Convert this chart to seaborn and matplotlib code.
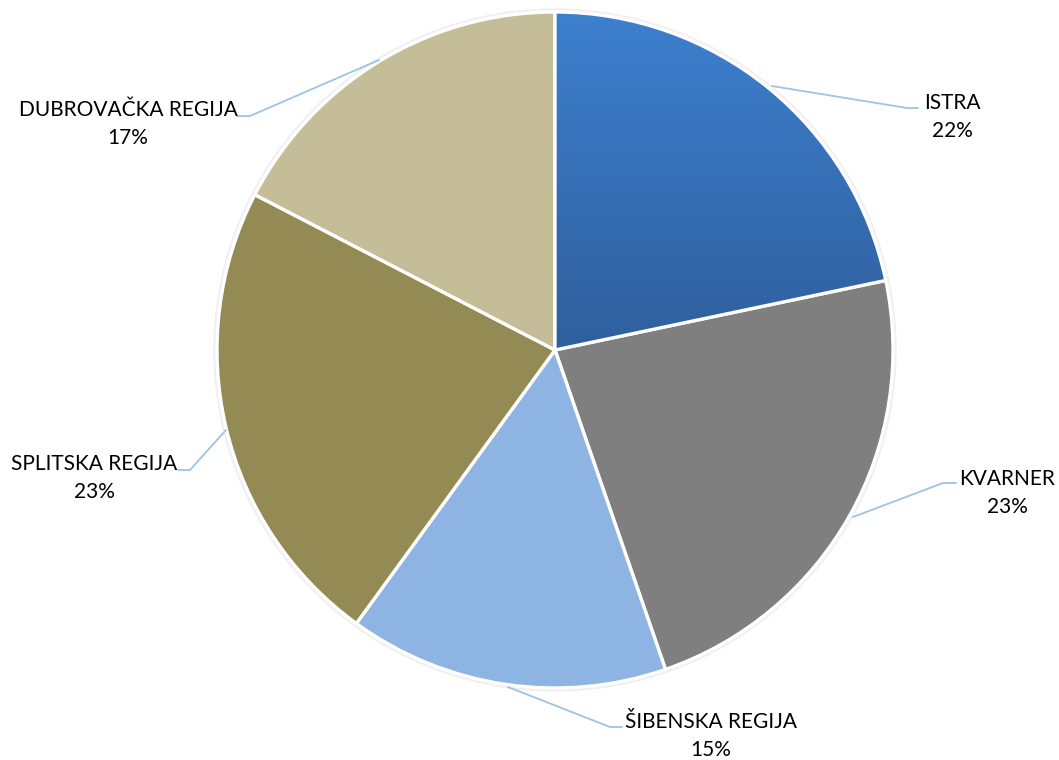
import numpy as np
import seaborn as sns
import matplotlib.pyplot as plt
from matplotlib.patches import Circle

# Share of regions (%)
regions = ['ISTRA', 'KVARNER', 'ŠIBENSKA REGIJA', 'SPLITSKA REGIJA', 'DUBROVAČKA REGIJA']
shares = [21.7, 23.0, 15.3, 22.6, 17.4]
colors = ['#3673bd', '#7f7f7f', '#8eb4e3', '#948a54', '#c4bd97']

sns.set_theme(style='white')
plt.rcParams['font.family'] = ['Lato', 'DejaVu Sans']

W, H = 1059, 760
fig = plt.figure(figsize=(W / 100, H / 100), dpi=100)
ax = fig.add_axes([0, 0, 1, 1])

cx, cy, r = 555, H - 350, 338

# faint shadow ring behind the pie
ax.add_patch(Circle((cx, cy), r + 3, color='#f0f0f0', zorder=0))

wedges, _ = ax.pie(shares, colors=colors, startangle=90, counterclock=False,
                   center=(cx, cy), radius=r, frame=True,
                   wedgeprops=dict(edgecolor='white', linewidth=2.4))
ax.set_xlim(0, W)
ax.set_ylim(0, H)
ax.set_aspect('equal')
ax.axis('off')

# vertical gradient on the first wedge (lighter at top)
grad = np.linspace(0, 1, 256).reshape(-1, 1)
cmap = sns.blend_palette(['#3d80cf', '#2f5e9b'], as_cmap=True)
img = ax.imshow(grad, cmap=cmap, extent=(cx, cx + r, cy - 10, cy + r),
                origin='upper', aspect='auto', zorder=wedges[0].get_zorder())
img.set_clip_path(wedges[0])
wedges[0].set_zorder(img.get_zorder() + 0.1)
wedges[0].set_facecolor('none')

# label positions and leader lines, in pixel coordinates (y from top)
label_pos = [(952, 117), (1007, 493), (711, 736), (94, 478), (128, 124)]
leaders = [
    [(772, 86), (907, 108), (918, 108)],
    [(853, 517), (943, 483), (956, 483)],
    [(508, 687), (610, 727), (622, 727)],
    [(226, 430), (190, 470), (178, 470)],
    [(379, 60), (250, 116), (237, 116)],
]

for name, val, (lx, ly), pts in zip(regions, shares, label_pos, leaders):
    xs = [p[0] for p in pts]
    ys = [H - p[1] for p in pts]
    ax.plot(xs, ys, color='#9dc3e6', lw=1.3, zorder=5)
    ax.text(lx, H - ly, f'{name}\n{val:.0f}%', ha='center', va='center',
            fontsize=15, color='black', linespacing=1.5, zorder=6)

fig.savefig('out.png', dpi=100)
